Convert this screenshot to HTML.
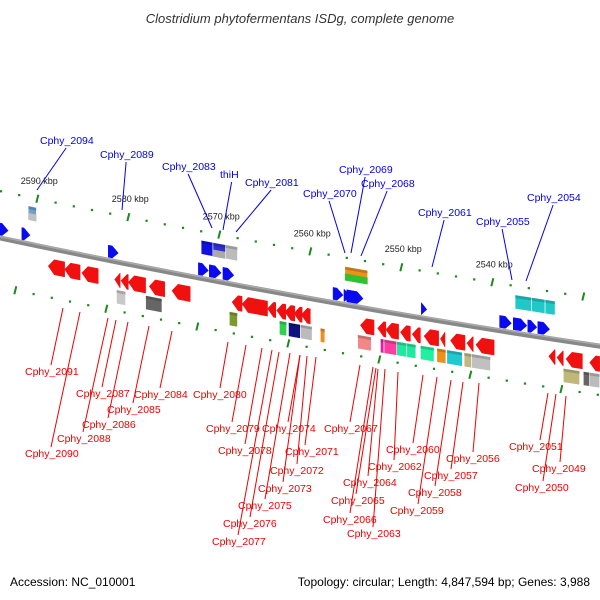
<!DOCTYPE html>
<html><head><meta charset="utf-8">
<style>
body{margin:0;background:#fff;}
svg{display:block;font-family:"Liberation Sans","DejaVu Sans",sans-serif;}
</style></head>
<body>
<svg id="chart" width="600" height="600" viewBox="0 0 600 600" xmlns="http://www.w3.org/2000/svg">
<text x="300" y="23" text-anchor="middle" font-size="13" font-style="italic" fill="#333">Clostridium phytofermentans ISDg, complete genome</text>
<path d="M-2,237.5 Q300,301.5 602,346.5" stroke="#888" stroke-width="5" fill="none"/>
<path d="M-2,236 Q300,300 602,345" stroke="#aaa" stroke-width="1.5" fill="none"/>
<g id="ticks"></g><g id="genes"></g><g id="labels"></g>
<text x="10" y="586" font-size="12" fill="#000">Accession: NC_010001</text>
<text x="590" y="586" font-size="12" text-anchor="end" fill="#000">Topology: circular; Length: 4,847,594 bp; Genes: 3,988</text>
</svg>
<script>
// tick positions in kbp
const tickKb = [];
for (let k = 2596; k >= 2526; k -= 2) tickKb.push(k);
const tickLabels = ["2590 kbp","2580 kbp","2570 kbp","2560 kbp","2550 kbp","2540 kbp"];
const tickLabelKb = [2590,2580,2570,2560,2550,2540];
// forward genes (blue) [startKb, endKb]
const fwdStart = [2594.1,2591.7,2582.2,2572.3,2571.1,2569.6,2557.5,2556.3,2556.0,2547.8,2539.2,2537.7,2536.1,2535.0];
const fwdEnd   = [2593.2,2590.8,2581.1,2571.2,2569.8,2568.4,2556.4,2555.6,2554.2,2547.2,2537.9,2536.2,2535.1,2533.7];
// reverse genes (red)
const revStart = [2588.8,2587.0,2585.1,2581.5,2580.8,2580.0,2577.7,2575.2,2568.6,2567.5,2564.7,2563.7,2562.8,2561.8,2561.0,2554.5,2552.6,2551.7,2550.1,2548.8,2547.5,2545.7,2544.6,2542.8,2541.8,2533.8,2532.9,2531.9,2529.3];
const revEnd   = [2587.0,2585.3,2583.3,2580.9,2580.0,2578.1,2576.0,2573.2,2567.5,2564.7,2563.8,2562.7,2561.7,2560.9,2560.0,2553.0,2551.7,2550.3,2549.0,2547.9,2545.9,2545.2,2543.0,2542.1,2539.8,2533.1,2532.2,2530.1,2528.2];
// COG boxes above (forward strand)
const cogFStart = [2591.0,2572.0,2570.7,2569.3,2556.2,2537.5,2535.7,2534.2];
const cogFEnd   = [2590.1,2570.7,2569.3,2568.0,2553.7,2535.7,2534.2,2533.1];
const cogFColor = ["#6f9fcf","#1010e0","#3030d0","#bbbbbb","#f0901a","#20c8c8","#20c8c8","#20c8c8"];
const cogFColor2 = ["#c0c0c0","#1010e0","#aaaaaa","#bbbbbb","#30c030","#20c8c8","#20c8c8","#20c8c8"];
// COG boxes below (reverse strand)
const cogRStart = [2581.3,2578.1,2568.9,2563.4,2562.4,2561.1,2558.9,2554.8,2552.3,2551.9,2550.5,2549.4,2547.9,2546.1,2545.0,2543.1,2542.3,2532.2,2530.0,2529.3];
const cogREnd   = [2580.3,2576.3,2568.0,2562.6,2561.1,2559.8,2558.4,2553.3,2551.9,2550.5,2549.4,2548.4,2546.4,2545.1,2543.3,2542.3,2540.2,2530.4,2529.3,2528.2];
const cogRColor = ["#c8c8c8","#666666","#7a9a30","#30d050","#101080","#bbbbbb","#f0901a","#f08888","#e020a0","#ff3ca0","#20e8a0","#20e8a0","#20f0a0","#f0901a","#20c8d0","#c0b880","#c0c0c0","#c0b878","#666","#bbb"];
// labels: forward
const fLabels = ["Cphy_2094","Cphy_2089","Cphy_2083","thiH","Cphy_2081","Cphy_2070","Cphy_2069","Cphy_2068","Cphy_2061","Cphy_2055","Cphy_2054"];
const fLx = [40,100,162,220,245,303,339,361,418,476,527];
const fLy = [144,158,170,178,186,197,173,187,216,225,201];
const fTx = [37,122,212,223,236,345,351,361,432,512,526];
const fTy = [190,210,228,230,232,253,253,256,267,280,281];
// labels: reverse
const rLabels = ["Cphy_2091","Cphy_2090","Cphy_2088","Cphy_2087","Cphy_2086","Cphy_2085","Cphy_2084","Cphy_2080","Cphy_2079","Cphy_2078","Cphy_2077","Cphy_2076","Cphy_2075","Cphy_2074","Cphy_2073","Cphy_2072","Cphy_2071","Cphy_2067","Cphy_2066","Cphy_2065","Cphy_2064","Cphy_2063","Cphy_2062","Cphy_2060","Cphy_2059","Cphy_2058","Cphy_2057","Cphy_2056","Cphy_2051","Cphy_2050","Cphy_2049"];
const rLx = [25,25,57,76,82,107,134,193,206,218,212,223,238,262,258,270,285,324,323,331,343,347,368,386,390,408,424,446,509,515,532];
const rLy = [375,457,442,397,428,413,398,398,432,454,545,527,509,432,492,474,455,432,523,504,486,537,470,453,514,496,479,462,450,491,472];
const rSx = [63,80,108,116,128,149,172,228,246,262,272,279,290,300,300,307,316,360,373,376,378,385,398,423,437,451,463,479,548,556,566];
const rSy = [308,312,318,320,322,326,331,342,345,348,350,352,353,355,355,356,357,365,367,368,369,369,372,375,377,380,382,383,393,394,396];
const rEx = [51,51,83,102,108,133,160,220,232,245,238,250,265,288,283,297,305,350,350,356,368,373,394,413,418,435,451,473,540,543,560];

const NS = "http://www.w3.org/2000/svg";
function yb(x){ return 238 + 0.21*x - 0.00005*x*x; }
function xs(kb){ return (2594.1 - kb) * 9.1; }
function mk(tag, attrs, parent){ const e=document.createElementNS(NS,tag); for(const k in attrs) e.setAttribute(k,attrs[k]); parent.appendChild(e); return e; }
const gT=document.getElementById('ticks'), gG=document.getElementById('genes'), gL=document.getElementById('labels');

tickKb.forEach(k=>{
  const major = k%10===0;
  [[xs(k),-47],[xs(k)-22,49]].forEach(([x,off])=>{
    if(x<-5||x>605) return;
    const y=yb(x)+off;
    let t;
    if(major){ t=mk('line',{x1:x+1,y1:y-4,x2:x-1,y2:y+4,stroke:'#1a8a1a','stroke-width':2},gT); }
    else { t=mk('rect',{x:x-1,y:y-1,width:2.2,height:2.2,fill:'#1a8a1a'},gT); }
    
    
  });
});
tickLabelKb.forEach((k,i)=>{
  const x=xs(k);
  const t=mk('text',{x:x+2,y:yb(x)-62,'text-anchor':'middle','font-size':9,fill:'#222'},gT);
  t.textContent=tickLabels[i];
  
  
});

function arrow(x1,x2,off,h,dir,color){
  const hd=Math.min(6,(x2-x1));
  const c=x=>yb(x)+off;
  let pts;
  if(dir>0){
    const xb=x2-hd;
    pts=[[x1,c(x1)-h/2],[xb,c(xb)-h/2],[x2,c(x2)],[xb,c(xb)+h/2],[x1,c(x1)+h/2]];
  } else {
    const xb=x1+hd;
    pts=[[x2,c(x2)-h/2],[xb,c(xb)-h/2],[x1,c(x1)],[xb,c(xb)+h/2],[x2,c(x2)+h/2]];
  }
  return mk('polygon',{points:pts.map(p=>p.join(',')).join(' '),fill:color,stroke:color,'stroke-width':0.5,'stroke-linejoin':'round'},gG);
}
function box(x1,x2,off,h,color,color2){
  const c=x=>yb(x)+off;
  const pts=[[x1,c(x1)-h/2],[x2,c(x2)-h/2],[x2,c(x2)+h/2],[x1,c(x1)+h/2]];
  const b=mk('polygon',{points:pts.map(p=>p.join(',')).join(' '),fill:color,stroke:'#fff','stroke-width':0.6},gG);
  if(color2 && color2!==color){
    const b2=mk('polygon',{points:[[x1,c(x1)],[x2,c(x2)],[x2,c(x2)+h/2],[x1,c(x1)+h/2]].map(p=>p.join(',')).join(' '),fill:color2},gG);
    
    
  }
  const s=mk('polygon',{points:[[x1,c(x1)-h/2],[x2,c(x2)-h/2],[x2,c(x2)-h/2+3],[x1,c(x1)-h/2+3]].map(p=>p.join(',')).join(' '),fill:'#000','fill-opacity':0.18},gG);
  
  
  return b;
}
fwdStart.forEach((s,i)=>{
  const a=arrow(xs(s),xs(fwdEnd[i]),-9,12,1,'#0a0af0');
  
  
});
revStart.forEach((s,i)=>{
  const a=arrow(xs(s),xs(revEnd[i]),18,15,-1,'#f01010');
  
  
});
cogFStart.forEach((s,i)=>{
  const b=box(xs(s),xs(cogFEnd[i]),-31,14,cogFColor[i],cogFColor2[i]);
  
  
});
cogRStart.forEach((s,i)=>{
  const b=box(xs(s),xs(cogREnd[i]),35,14,cogRColor[i]);
  
  
});
fLabels.forEach((t,i)=>{
  const ln=mk('line',{x1:fLx[i]+(t.length*2.9),y1:fLy[i]+4,x2:fTx[i],y2:fTy[i],stroke:'#0000ee','stroke-width':1},gL);
  
  
  const tx=mk('text',{x:fLx[i],y:fLy[i],'font-size':10.5,fill:'#0000ee'},gL);
  tx.textContent=t;
  
  
});
rLabels.forEach((t,i)=>{
  const ln=mk('line',{x1:rSx[i],y1:rSy[i],x2:rEx[i],y2:rLy[i]-10,stroke:'#ee0000','stroke-width':1},gL);
  
  
  const tx=mk('text',{x:rLx[i],y:rLy[i],'font-size':10.5,fill:'#ee0000'},gL);
  tx.textContent=t;
  
  
});
</script>
</body></html>
